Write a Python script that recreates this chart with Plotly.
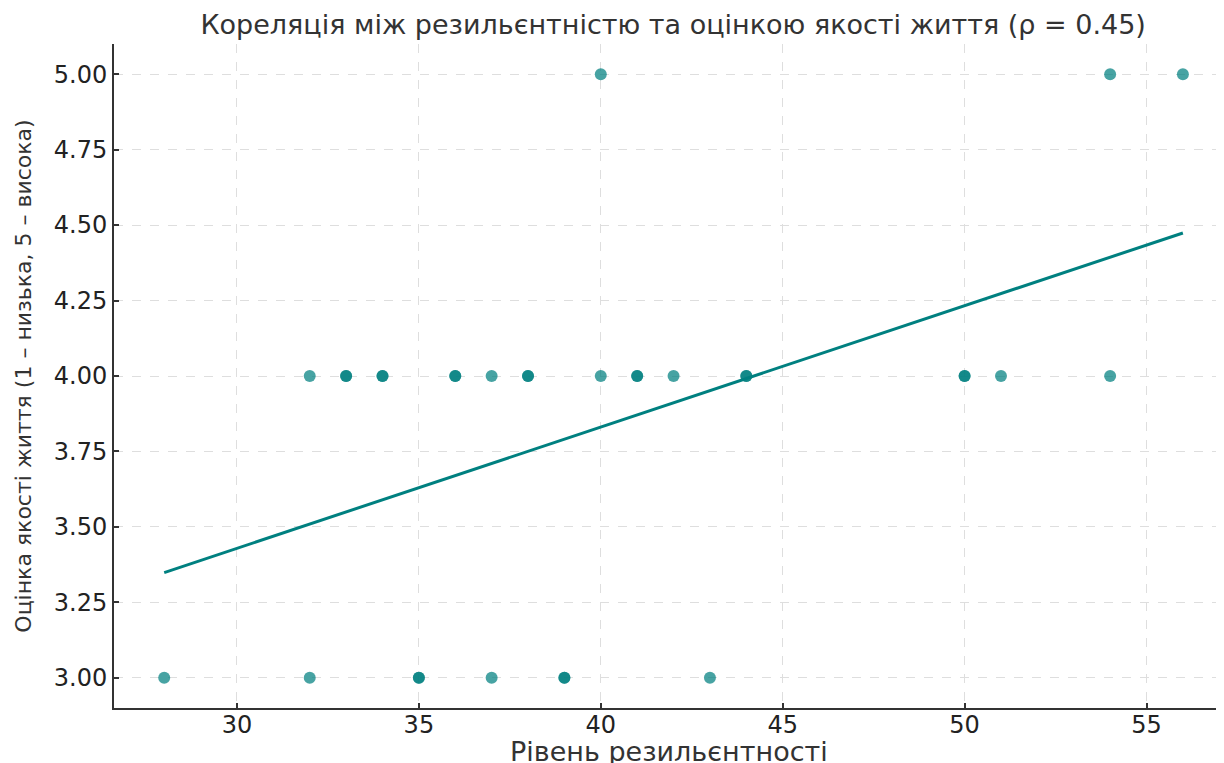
import numpy as np
import plotly.graph_objects as go

# Data: resilience level (x) and quality-of-life rating (y); repeated values = overlapping points
resilience = [28, 32, 35, 35, 37, 39, 39, 43,
              32, 33, 33, 34, 34, 36, 36, 37, 38, 38, 40, 41, 41, 42, 44, 44, 50, 50, 51, 54,
              40, 54, 56]
quality = [3, 3, 3, 3, 3, 3, 3, 3,
           4, 4, 4, 4, 4, 4, 4, 4, 4, 4, 4, 4, 4, 4, 4, 4, 4, 4, 4, 4,
           5, 5, 5]

title_text = "Кореляція між резильєнтністю та оцінкою якості життя (ρ = 0.45)"
x_title = "Рівень резильєнтності"
y_title = "Оцінка якості життя (1 – низька, 5 – висока)"
x_ticks = [30, 35, 40, 45, 50, 55]
y_ticks = [3.0, 3.25, 3.5, 3.75, 4.0, 4.25, 4.5, 4.75, 5.0]

x = np.array(resilience, dtype=float)
y = np.array(quality, dtype=float)
slope, intercept = np.polyfit(x, y, 1)
line_x = np.array([x.min(), x.max()])
line_y = slope * line_x + intercept

TEAL = "#008080"
FONT = "DejaVu Sans"

fig = go.Figure()
fig.add_trace(go.Scatter(
    x=x, y=y, mode="markers",
    marker=dict(color=TEAL, size=12, opacity=0.72, line=dict(width=0)),
    showlegend=False, hoverinfo="x+y"))
fig.add_trace(go.Scatter(
    x=line_x, y=line_y, mode="lines",
    line=dict(color=TEAL, width=3),
    showlegend=False))

axis_common = dict(
    showline=True, linecolor="#333333", linewidth=2,
    ticks="inside", ticklen=5, tickwidth=2, tickcolor="#333333",
    showgrid=True, gridcolor="#dedede", griddash="dash", gridwidth=1,
    zeroline=False, mirror=False, automargin=False,
    tickfont=dict(family=FONT, size=24, color="#222222"),
)

# page body has an 8px default margin, so the figure is sized/offset to compensate
fig.update_layout(
    width=1216, height=755,
    paper_bgcolor="white", plot_bgcolor="white",
    margin=dict(l=106, r=0, t=36, b=55, autoexpand=False),
    title=dict(text=title_text, x=0.547, xanchor="center", y=0.978, yanchor="middle",
               automargin=False,
               font=dict(family=FONT, size=27, color="#333333")),
    xaxis=dict(range=[26.62, 57.13], tickvals=x_ticks, ticklabelstandoff=-6,
               **axis_common),
    yaxis=dict(range=[2.9, 5.1], tickvals=y_ticks, tickformat=".2f",
               title=dict(text=y_title, standoff=16,
                          font=dict(family=FONT, size=22, color="#333333")),
               **axis_common),
    annotations=[dict(text=x_title, xref="paper", yref="paper", x=0.5, y=0,
                      xanchor="center", yanchor="top", yshift=-26, showarrow=False,
                      font=dict(family=FONT, size=27, color="#333333"))],
)

fig.write_html("out.html")
